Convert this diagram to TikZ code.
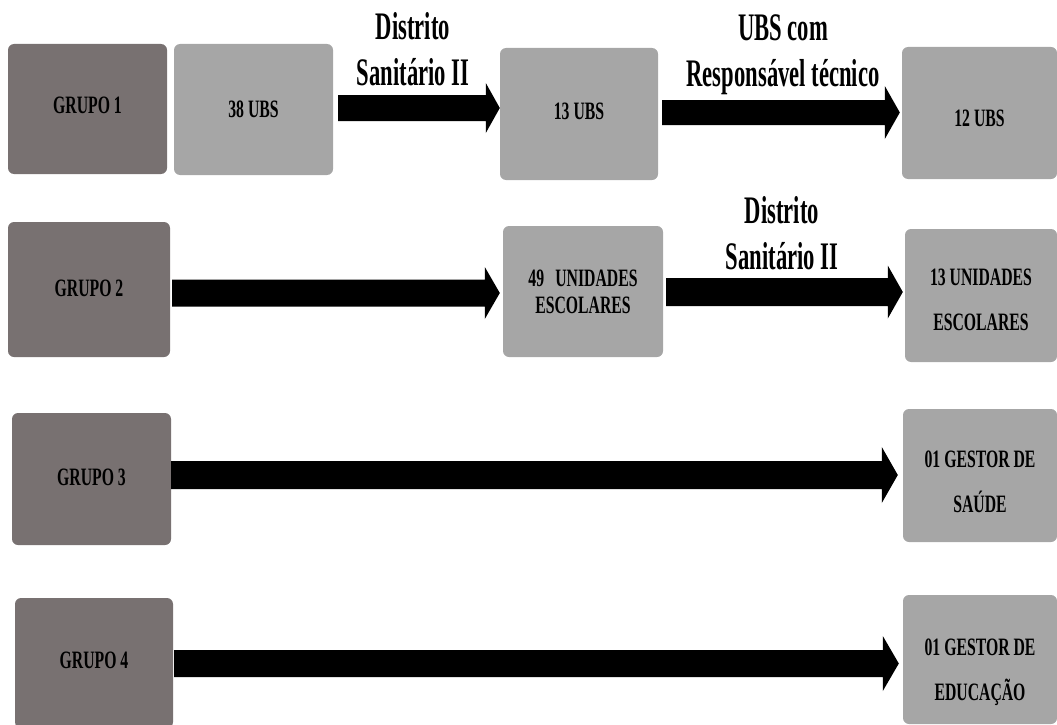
\documentclass[tikz,border=0pt]{standalone}
\usepackage{fontspec}
\setmainfont{Liberation Serif}
\newfontfamily\bxf{Liberation Serif}[FakeStretch=0.63]
\newfontfamily\lbf{Liberation Serif}[FakeStretch=0.58]
\usetikzlibrary{calc}
\definecolor{grpdark}{RGB}{120,113,113}
\definecolor{ubslight}{RGB}{166,166,166}
\newcommand\dn[1]{\rule[-#1pt]{0pt}{#1pt}}
\newcommand\up[1]{\rule{0pt}{#1pt}}
% #1 from node, #2 to node, #3 y-centre coordinate, #4 start gap, #5 shaft half, #6 head half, #7 head length, #8 end gap
\newcommand\barrow[8]{%
  \fill[arrowfill] let \p1=(#1.east), \p2=(#2.west), \p3=(#3) in
   (\x1+#4pt,\y3+#5pt) -- (\x2-#8pt-#7pt,\y3+#5pt) -- (\x2-#8pt-#7pt,\y3+#6pt) --
   (\x2-#8pt,\y3) -- (\x2-#8pt-#7pt,\y3-#6pt) -- (\x2-#8pt-#7pt,\y3-#5pt) --
   (\x1+#4pt,\y3-#5pt) -- cycle;}
\tikzset{
  box/.style={rectangle, rounded corners=6pt, inner sep=0pt, align=center,
    text=black, font=\bxf\bfseries\fontsize{25}{45}\selectfont},
  dark/.style={box, fill=grpdark},
  light/.style={box, fill=ubslight},
  lbl/.style={inner sep=0pt, align=center, anchor=north, text=black,
    font=\lbf\bfseries\fontsize{39}{46}\selectfont},
  arrowfill/.style={fill=black}
}
\begin{document}
\begin{tikzpicture}[x=1pt,y=-1pt]
\useasboundingbox (0,0) rectangle (1057,725);
% row 1
\node[dark, minimum width=159pt, minimum height=130pt] (g1) at (87.5,109) {\dn{7}GRUPO 1};
\node[light, minimum width=159pt, minimum height=131pt] (u38) at (253.5,109.5) {38 UBS};
\node[light, minimum width=158pt, minimum height=132pt] (u13) at (579,114) {\dn{5}13 UBS};
\node[light, minimum width=155pt, minimum height=132pt] (u12) at (979.5,113) {\up{28}12 UBS};
% row 2
\node[dark, minimum width=162pt, minimum height=135pt] (g2) at (89,289.5) {\dn{2}GRUPO 2};
\node[light, minimum width=160pt, minimum height=131pt, font=\bxf\bfseries\fontsize{25}{27}\selectfont] (u49) at (583,291.5) {49\hspace{0.45em}UNIDADES\\ESCOLARES};
\node[light, minimum width=152pt, minimum height=133pt] (u13e) at (981,295.5) {\up{26}13 UNIDADES\\ESCOLARES};
% row 3
\node[dark, minimum width=159pt, minimum height=132pt] (g3) at (91.5,479) {\dn{3}GRUPO 3};
\node[light, minimum width=154pt, minimum height=133pt] (gs) at (980,475.5) {\up{30}01 GESTOR DE\\SAÚDE};
% row 4
\node[dark, minimum width=158pt, minimum height=130pt] (g4) at (94,663) {\dn{5}GRUPO 4};
\node[light, minimum width=154pt, minimum height=129pt] (ge) at (980,659.5) {\up{43}01 GESTOR DE\\EDUCAÇÃO};
% arrow centre lines
\coordinate (ya) at (0,108);
\coordinate (yb) at (0,112.5);
\coordinate (yc) at (0,293);
\coordinate (yd) at (0,292);
\coordinate (ye) at (0,475);
\coordinate (yf) at (0,663.5);
% arrows
\barrow{u38}{u13}{ya}{5}{13}{25}{14}{0}
\barrow{u13}{u12}{yb}{4}{12.5}{26.5}{15}{2}
\barrow{g2}{u49}{yc}{2}{13.5}{26}{15}{3}
\barrow{u49}{u13e}{yd}{3}{14}{26.5}{15}{2}
\barrow{g3}{gs}{ye}{0}{14}{28}{16}{5}
\barrow{g4}{ge}{yf}{1}{13.5}{27.5}{16}{4}
% labels
\node[lbl] (l1) at (413,9) {\up{30}Distrito\\Sanitário II};
\node[lbl] (l2) at (783,10) {\up{30}UBS com\\Responsável técnico};
\node[lbl] (l3) at (782,193) {\up{30}Distrito\\Sanitário II};
\end{tikzpicture}
\end{document}
